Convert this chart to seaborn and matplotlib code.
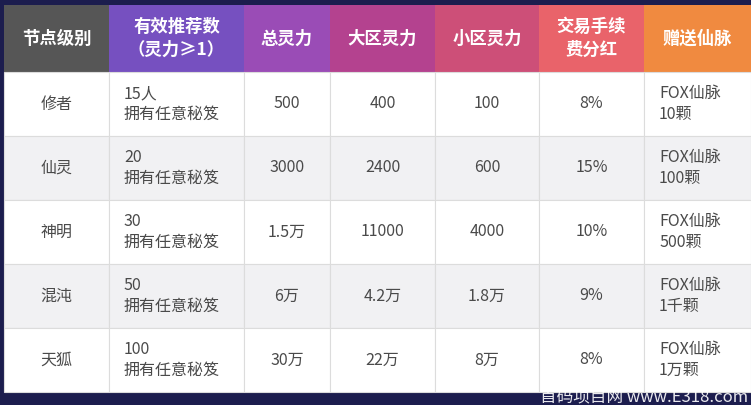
import matplotlib
matplotlib.use("Agg")
import matplotlib.pyplot as plt
import seaborn as sns

sns.set_theme(style="white")
plt.rcParams["font.family"] = "Noto Sans CJK SC"

# ---- table content ----
headers = ["节点级别", "有效推荐数\n（灵力≥1）", "总灵力", "大区灵力", "小区灵力", "交易手续\n费分红", "赠送仙脉"]
levels = ["修者", "仙灵", "神明", "混沌", "天狐"]
referrals = ["15人\n拥有任意秘笈", "20\n拥有任意秘笈", "30\n拥有任意秘笈", "50\n拥有任意秘笈", "100\n拥有任意秘笈"]
total_power = ["500", "3000", "1.5万", "6万", "30万"]
big_zone = ["400", "2400", "11000", "4.2万", "22万"]
small_zone = ["100", "600", "4000", "1.8万", "8万"]
fee_share = ["8%", "15%", "10%", "9%", "8%"]
gift = ["FOX仙脉\n10颗", "FOX仙脉\n100颗", "FOX仙脉\n500颗", "FOX仙脉\n1千颗", "FOX仙脉\n1万颗"]

# layout (pixels)
col_edges = [4, 109, 244, 330, 435, 539, 644, 751]
header_top, header_bot = 5, 72
row_h = 64
header_colors = ["#565656", "#7650c0", "#9a4cb6", "#b4428f", "#cd4f78", "#e9636a", "#f08a40"]

fig = plt.figure(figsize=(7.51, 4.05), dpi=100)
fig.patch.set_facecolor("#1c1d4e")
ax = fig.add_axes([0, 0, 1, 1])
ax.set_xlim(0, 751)
ax.set_ylim(405, 0)
ax.axis("off")

widths = [col_edges[i + 1] - col_edges[i] for i in range(7)]
lefts = col_edges[:-1]

# header cells
ax.bar(lefts, [header_bot - header_top] * 7, width=widths, bottom=header_top,
       align="edge", color=header_colors, edgecolor="none")
for i, h in enumerate(headers):
    ax.text(lefts[i] + widths[i] / 2, (header_top + header_bot) / 2, h, color="white",
            fontsize=12.5, fontweight="bold", ha="center", va="center", linespacing=1.35)

# body rows
columns = [levels, referrals, total_power, big_zone, small_zone, fee_share, gift]
for r in range(len(levels)):
    top = header_bot + r * row_h
    shade = "#ffffff" if r % 2 == 0 else "#f1f1f3"
    ax.bar(lefts, [row_h] * 7, width=widths, bottom=top, align="edge",
           color=shade, edgecolor="#dcdcdc", linewidth=0.8)
    cy = top + row_h / 2
    for c, col in enumerate(columns):
        if c in (1, 6):
            ax.text(lefts[c] + 15, cy, col[r], color="#4a4a4a", fontsize=11.5,
                    ha="left", va="center", linespacing=1.3, fontweight="light")
        else:
            ax.text(lefts[c] + widths[c] / 2, cy, col[r], color="#4a4a4a",
                    fontsize=11.5, ha="center", va="center", fontweight="light")

ax.text(748, 397, "首码项目网 www.E318.com", color="white", fontsize=12,
        ha="right", va="center", alpha=0.9, family="Noto Sans CJK SC")

fig.savefig("out.png", dpi=100, facecolor=fig.get_facecolor())
